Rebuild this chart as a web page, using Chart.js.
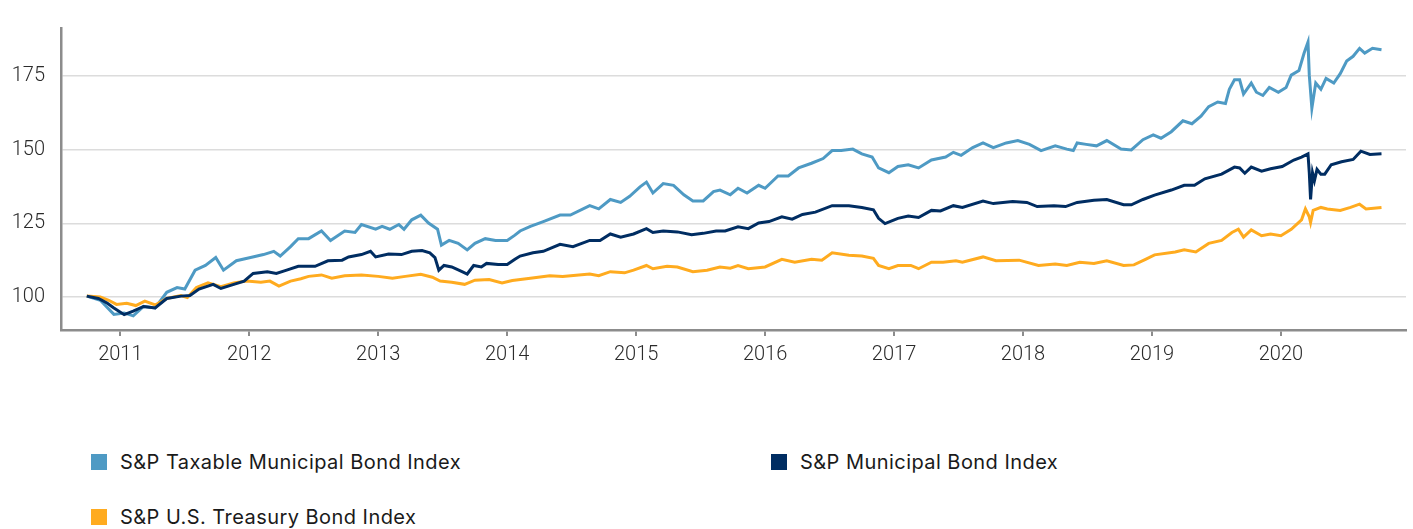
<!DOCTYPE html>
<html>
<head>
<meta charset="utf-8">
<script src="https://cdn.jsdelivr.net/npm/chart.js@4/dist/chart.umd.min.js"></script>
<style>
  html, body { margin: 0; padding: 0; background: #ffffff; }
  body { width: 1413px; height: 529px; position: relative; overflow: hidden; }
  #wrap { position: absolute; left: 0; top: 0; width: 1413px; height: 400px; }
  .leg { position: absolute; font-family: Inter, "Noto Sans", sans-serif; font-size: 20px; letter-spacing: 0.45px; color: #1a1a1a; white-space: nowrap; line-height: 20px; }
  .leg .box { position: absolute; left: 0; top: 2px; width: 16px; height: 16px; }
  .leg .txt { position: absolute; left: 29px; top: 0; }
</style>
</head>
<body>
<div id="wrap"><canvas id="c" width="1413" height="400"></canvas></div>
<div id="legend"></div>
<script>
// ---- Data ----
const seriesNames = ["S&P Taxable Municipal Bond Index", "S&P Municipal Bond Index", "S&P U.S. Treasury Bond Index"];
const seriesColors = ["#4e9ac4", "#002d62", "#ffab1f"];
const yearTicks = [2011, 2012, 2013, 2014, 2015, 2016, 2017, 2018, 2019, 2020];
const valueTicks = [100, 125, 150, 175];

const taxableDates = [2010.74,2010.845,2010.95,2011.03,2011.10,2011.18,2011.27,2011.36,2011.44,2011.50,2011.58,2011.66,2011.74,2011.80,2011.90,2012.01,2012.11,2012.19,2012.24,2012.32,2012.38,2012.46,2012.56,2012.63,2012.74,2012.82,2012.87,2012.98,2013.03,2013.09,2013.16,2013.20,2013.26,2013.33,2013.39,2013.46,2013.49,2013.55,2013.62,2013.69,2013.75,2013.83,2013.91,2014.00,2014.06,2014.10,2014.18,2014.28,2014.41,2014.49,2014.64,2014.71,2014.80,2014.88,2014.95,2015.03,2015.08,2015.13,2015.21,2015.29,2015.37,2015.44,2015.52,2015.60,2015.65,2015.73,2015.79,2015.86,2015.95,2016.00,2016.10,2016.18,2016.26,2016.36,2016.45,2016.52,2016.59,2016.68,2016.75,2016.83,2016.88,2016.96,2017.03,2017.11,2017.19,2017.29,2017.40,2017.46,2017.52,2017.61,2017.69,2017.77,2017.87,2017.96,2018.05,2018.14,2018.25,2018.34,2018.39,2018.42,2018.49,2018.57,2018.65,2018.76,2018.84,2018.93,2019.01,2019.07,2019.15,2019.24,2019.31,2019.38,2019.44,2019.51,2019.57,2019.60,2019.64,2019.68,2019.71,2019.77,2019.81,2019.86,2019.91,2019.98,2020.04,2020.08,2020.14,2020.18,2020.21,2020.22,2020.24,2020.27,2020.31,2020.35,2020.41,2020.46,2020.51,2020.56,2020.61,2020.65,2020.71,2020.78];
const taxableValues = [100.3,98.9,94.1,94.6,93.6,96.8,96.3,101.6,103.2,102.7,109.1,110.7,113.4,109.1,112.3,113.4,114.4,115.5,113.9,117.1,119.8,119.8,122.4,119.2,122.4,121.9,124.6,123.0,124.0,123.0,124.6,123.0,126.2,127.8,125.1,123.0,117.6,119.2,118.2,116.0,118.2,119.8,119.2,119.2,121.0,122.4,124.0,125.6,127.8,127.8,131.0,129.9,133.1,132.1,134.2,137.4,139.0,135.3,138.5,137.9,134.7,132.6,132.6,135.8,136.3,134.7,136.9,135.3,137.9,136.9,141.1,141.1,143.8,145.4,147.0,149.7,149.7,150.2,148.6,147.5,143.8,142.2,144.3,144.9,143.8,146.5,147.5,149.1,148.1,150.7,152.3,150.7,152.3,153.1,151.8,149.7,151.3,150.2,149.7,152.3,151.8,151.3,153.1,150.2,149.9,153.4,155.0,153.9,156.1,159.8,158.8,161.4,164.6,166.2,165.7,170.5,173.7,173.7,168.9,172.6,169.5,168.4,171.1,169.5,171.1,175.3,176.9,182.8,186.5,175.3,164.1,172.6,170.5,174.2,172.6,175.8,180.1,181.7,184.4,182.8,184.4,183.9];

const muniDates = [2010.74,2010.83,2010.90,2010.95,2011.03,2011.10,2011.18,2011.27,2011.36,2011.47,2011.54,2011.61,2011.72,2011.78,2011.88,2011.96,2012.03,2012.14,2012.21,2012.29,2012.38,2012.51,2012.61,2012.72,2012.77,2012.87,2012.94,2012.98,2013.08,2013.18,2013.26,2013.34,2013.40,2013.44,2013.47,2013.51,2013.57,2013.65,2013.69,2013.74,2013.80,2013.84,2013.93,2014.00,2014.06,2014.10,2014.20,2014.28,2014.41,2014.51,2014.64,2014.72,2014.80,2014.88,2014.98,2015.08,2015.13,2015.21,2015.32,2015.43,2015.52,2015.62,2015.69,2015.79,2015.87,2015.95,2016.03,2016.13,2016.21,2016.29,2016.39,2016.52,2016.65,2016.75,2016.84,2016.88,2016.93,2017.03,2017.11,2017.19,2017.29,2017.36,2017.46,2017.53,2017.69,2017.77,2017.92,2018.03,2018.11,2018.24,2018.33,2018.42,2018.55,2018.65,2018.78,2018.84,2018.93,2019.02,2019.15,2019.25,2019.33,2019.41,2019.54,2019.64,2019.68,2019.72,2019.77,2019.85,2019.92,2020.01,2020.10,2020.16,2020.21,2020.22,2020.23,2020.245,2020.26,2020.28,2020.31,2020.34,2020.39,2020.47,2020.56,2020.62,2020.69,2020.78];
const muniValues = [100.3,99.5,97.9,96.3,94.0,95.2,96.8,96.3,99.5,100.3,100.5,102.7,104.3,102.9,104.3,105.4,108.0,108.6,108.0,109.1,110.4,110.4,112.3,112.5,113.6,114.4,115.5,113.6,114.6,114.4,115.5,115.8,115.0,113.4,109.1,110.7,110.2,108.6,107.8,110.7,110.2,111.4,111.0,111.0,112.8,113.9,115.0,115.5,117.9,117.1,119.2,119.2,121.4,120.3,121.4,123.2,121.9,122.4,122.1,121.1,121.6,122.4,122.4,123.8,123.2,125.1,125.6,127.2,126.4,128.0,128.8,131.0,131.0,130.4,129.6,126.7,124.9,126.7,127.5,127.0,129.4,129.2,131.0,130.4,132.6,131.7,132.4,132.1,130.7,131.0,130.7,132.1,132.8,133.1,131.3,131.3,133.1,134.6,136.3,137.9,137.9,140.1,141.7,144.1,143.8,142.0,144.1,142.7,143.5,144.3,146.5,147.5,148.6,142.2,133.1,142.2,139.5,143.3,141.7,141.7,144.9,145.9,146.7,149.5,148.4,148.6];

const treasuryDates = [2010.74,2010.845,2010.91,2010.97,2011.05,2011.12,2011.19,2011.27,2011.36,2011.47,2011.52,2011.59,2011.68,2011.78,2011.88,2011.98,2012.09,2012.16,2012.23,2012.32,2012.40,2012.46,2012.56,2012.64,2012.74,2012.87,2013.00,2013.11,2013.21,2013.33,2013.42,2013.48,2013.57,2013.67,2013.75,2013.86,2013.96,2014.04,2014.18,2014.33,2014.43,2014.64,2014.71,2014.80,2014.91,2014.98,2015.08,2015.13,2015.24,2015.32,2015.44,2015.55,2015.65,2015.73,2015.79,2015.87,2016.00,2016.13,2016.23,2016.36,2016.44,2016.52,2016.65,2016.75,2016.84,2016.88,2016.96,2017.03,2017.13,2017.19,2017.29,2017.38,2017.48,2017.53,2017.69,2017.79,2017.97,2018.12,2018.25,2018.34,2018.44,2018.55,2018.65,2018.78,2018.86,2018.95,2019.02,2019.18,2019.25,2019.34,2019.44,2019.54,2019.62,2019.67,2019.71,2019.77,2019.85,2019.92,2020.00,2020.08,2020.16,2020.19,2020.22,2020.23,2020.25,2020.31,2020.36,2020.46,2020.54,2020.61,2020.66,2020.78];
const treasuryValues = [100.3,100.0,98.9,97.5,97.9,97.1,98.6,97.3,99.5,100.5,99.8,103.2,104.8,103.5,104.8,105.4,105.0,105.4,103.7,105.4,106.2,107.0,107.5,106.4,107.2,107.5,107.0,106.4,107.0,107.7,106.7,105.4,105.0,104.3,105.7,105.9,104.8,105.6,106.4,107.2,107.0,107.8,107.2,108.6,108.2,109.1,110.7,109.6,110.4,110.2,108.6,109.1,110.2,109.8,110.7,109.6,110.2,112.8,111.8,112.8,112.5,115.0,114.2,113.9,113.1,110.7,109.6,110.7,110.7,109.6,111.8,111.8,112.3,111.8,113.6,112.3,112.5,110.7,111.2,110.7,111.8,111.4,112.3,110.7,110.9,112.8,114.3,115.3,116.0,115.3,118.2,119.2,121.9,123.0,120.3,122.8,120.8,121.4,120.8,123.0,126.2,129.9,127.2,125.3,129.4,130.4,129.9,129.4,130.4,131.5,129.9,130.4];

// ---- Build ----
function pts(dates, values) { return dates.map((d, i) => ({ x: d, y: values[i] })); }

const allDates = [taxableDates, muniDates, treasuryDates];
const allValues = [taxableValues, muniValues, treasuryValues];
const drawOrder = [3, 1, 2]; // lower number drawn on top

const datasets = seriesNames.map((name, i) => ({
  label: name,
  data: pts(allDates[i], allValues[i]),
  borderColor: seriesColors[i],
  backgroundColor: seriesColors[i],
  borderWidth: 3,
  pointRadius: 0,
  tension: 0,
  fill: false,
  order: drawOrder[i]
}));

const axisGrey = "#8c8c8c";
const tickFont = { family: "Roboto, 'Noto Sans', sans-serif", size: 20, weight: 300 };

new Chart(document.getElementById("c"), {
  type: "line",
  data: { datasets },
  options: {
    responsive: false,
    animation: false,
    layout: { padding: { left: 0, right: 7, top: 10, bottom: 0 } },
    plugins: { legend: { display: false }, tooltip: { enabled: false } },
    scales: {
      x: {
        type: "linear",
        min: 2010.54,
        max: 2020.97,
        afterBuildTicks: (s) => { s.ticks = yearTicks.map(v => ({ value: v })); },
        afterFit: (s) => { s.height = 70; },
        ticks: { color: "#2b2b2b", font: tickFont, padding: 7, maxRotation: 0, autoSkip: false, callback: (v) => String(v) },
        grid: { drawOnChartArea: false, drawTicks: true, tickLength: 6, color: axisGrey, lineWidth: 2 },
        border: { display: true, color: axisGrey, width: 2.5 }
      },
      y: {
        type: "linear",
        min: 88.8,
        max: 191.3,
        afterBuildTicks: (s) => { s.ticks = valueTicks.map(v => ({ value: v })); },
        afterFit: (s) => { s.width = 61; },
        ticks: { color: "#2b2b2b", font: tickFont, padding: 16, callback: (v) => String(v) },
        grid: { drawTicks: false, color: "#dcdcdc", lineWidth: 1.5 },
        border: { display: true, color: axisGrey, width: 2.5 }
      }
    }
  }
});

// ---- Legend (HTML, from the series arrays) ----
const legendPos = [[91, 452], [771, 452], [91, 507]];
const legendEl = document.getElementById("legend");
seriesNames.forEach((name, i) => {
  const item = document.createElement("div");
  item.className = "leg";
  item.style.left = legendPos[i][0] + "px";
  item.style.top = legendPos[i][1] + "px";
  const box = document.createElement("span");
  box.className = "box";
  box.style.background = seriesColors[i];
  const txt = document.createElement("span");
  txt.className = "txt";
  txt.textContent = name;
  item.appendChild(box);
  item.appendChild(txt);
  legendEl.appendChild(item);
});
</script>
</body>
</html>
